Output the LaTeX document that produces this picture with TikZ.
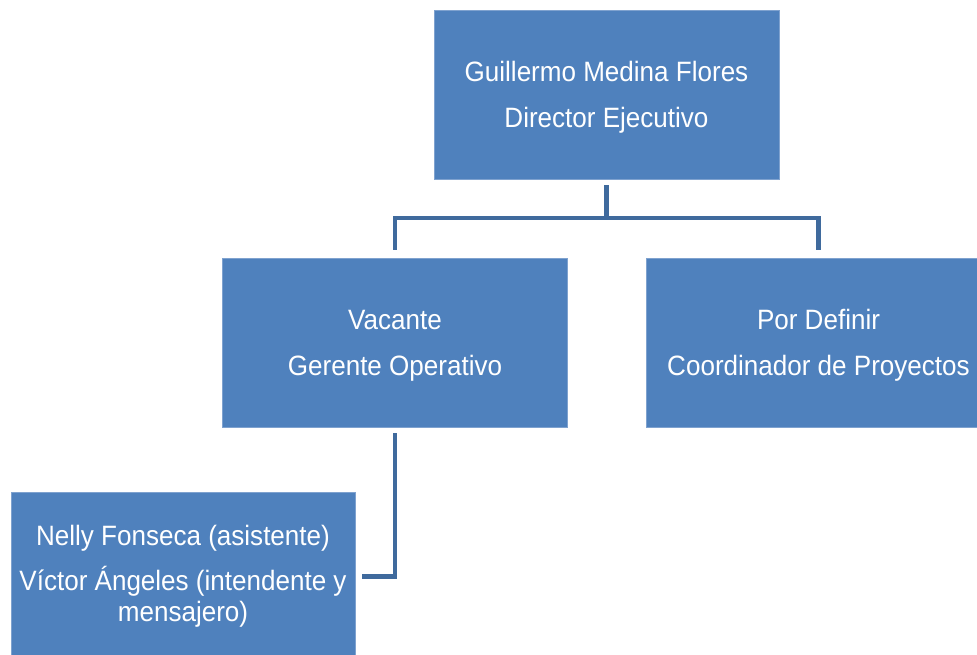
\documentclass[tikz,border=0pt]{standalone}
\usepackage{fontspec}
\setmainfont[FakeStretch=0.93]{Liberation Sans}
\usetikzlibrary{calc}
\definecolor{boxblue}{HTML}{4F81BD}
\definecolor{boxedge}{HTML}{7FA2CF}
\definecolor{linkblue}{HTML}{3F6A9D}
\newcommand{\topstrut}{\rule{0pt}{25pt}}
\begin{document}
\begin{tikzpicture}[x=1pt,y=-1pt,
  orgbox/.style={fill=boxblue,draw=boxedge,line width=0.6pt,minimum width=345pt,minimum height=169pt,
    text=white,align=center,inner sep=0pt,font=\fontsize{28}{31}\selectfont},
  link/.style={draw=linkblue,line width=4.5pt}]
\useasboundingbox (0,0) rectangle (977,655);
\clip (0,0) rectangle (977,655);
\node[orgbox] (dir) at (606.5,94.5) {\topstrut Guillermo Medina Flores\\[15pt]Director Ejecutivo};
\node[orgbox] (vac) at (395,342.5) {\topstrut Vacante\\[15pt]Gerente Operativo};
\node[orgbox] (por) at (818.5,342.5) {\topstrut Por Definir\\[15pt]Coordinador de Proyectos};
\node[orgbox,minimum width=344pt] (staff) at (183,576.5) {Nelly Fonseca (asistente)\\[14pt]Víctor Ángeles (intendente y\\mensajero)};
\coordinate (bus) at (606.5,218);
\draw[link] ($(dir.south)+(0,6)$) -- (bus);
\draw[link] ($(vac.north)+(0,-8)$) |- (bus) -| ($(por.north)+(0,-8)$);
\draw[link] ($(vac.south)+(0,6)$) |- ($(staff.east)+(7,0)$);
\end{tikzpicture}
\end{document}
